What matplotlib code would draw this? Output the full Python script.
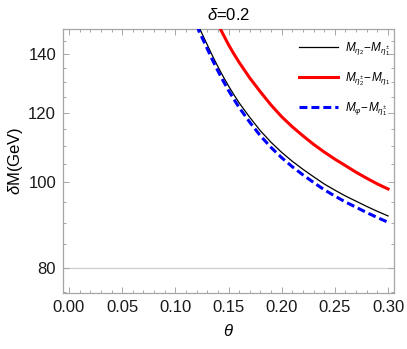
import numpy as np
import matplotlib
matplotlib.use("Agg")
import matplotlib.pyplot as plt
from matplotlib.ticker import FixedLocator, NullFormatter, FixedFormatter

plt.rcParams['font.family'] = ['Liberation Sans', 'DejaVu Sans']
plt.rcParams['mathtext.fontset'] = 'custom'
plt.rcParams['mathtext.rm'] = 'Liberation Sans'
plt.rcParams['mathtext.it'] = 'Liberation Sans:italic'
plt.rcParams['mathtext.sf'] = 'Liberation Sans'

# Data
theta_black = [0.12, 0.125, 0.13, 0.135, 0.14, 0.145, 0.15, 0.155, 0.16, 0.17, 0.18, 0.19,
               0.20, 0.21, 0.22, 0.23, 0.24, 0.25, 0.26, 0.27, 0.28, 0.29, 0.30]
dm_black = [152.5, 147.8, 143.5, 139.3, 135.5, 132.0, 128.8, 125.9, 123.2, 118.6, 114.5, 111.1,
            108.2, 105.7, 103.5, 101.5, 99.6, 98.0, 96.5, 95.2, 93.9, 92.7, 91.6]

theta_red = [0.14, 0.145, 0.15, 0.155, 0.16, 0.17, 0.18, 0.19, 0.20, 0.21, 0.22, 0.23,
             0.24, 0.25, 0.26, 0.27, 0.28, 0.29, 0.30]
dm_red = [151.5, 147.4, 143.5, 140.1, 137.0, 131.5, 126.8, 122.5, 118.8, 115.7, 113.0, 110.5,
          108.3, 106.3, 104.5, 102.7, 101.1, 99.6, 98.3]

theta_blue = [0.12, 0.125, 0.13, 0.135, 0.14, 0.145, 0.15, 0.155, 0.16, 0.17, 0.18, 0.19,
              0.20, 0.21, 0.22, 0.23, 0.24, 0.25, 0.26, 0.27, 0.28, 0.29, 0.30]
dm_blue = [151.0, 146.3, 142.0, 137.8, 134.0, 130.5, 127.3, 124.4, 121.7, 117.1, 113.0, 109.6,
           106.7, 104.2, 102.0, 100.0, 98.1, 96.5, 95.0, 93.7, 92.4, 91.2, 90.1]

x_ticks = [0.00, 0.05, 0.10, 0.15, 0.20, 0.25, 0.30]
y_ticks = [80, 100, 120, 140]
y_minor = [75, 85, 90, 95, 105, 110, 115, 125, 130, 135, 145]
ref_line = 80

labels = [r'$M_{\eta_2}\!-\!M_{\eta_1^{\pm}}$',
          r'$M_{\eta_2^{\pm}}\!-\!M_{\eta_1}$',
          r'$M_{\varphi}\!-\!M_{\eta_1^{\pm}}$']

fig = plt.figure(figsize=(4.07, 3.49), dpi=100)
ax = fig.add_axes([63/407, 1-292.7/349, (394-63)/407, (292.7-29.3)/349])
ax.set_yscale('log')

ax.axhline(ref_line, color='#cccccc', lw=0.9, zorder=1)
ax.plot(theta_black, dm_black, color='black', lw=0.9, label=labels[0], zorder=3)
ax.plot(theta_red, dm_red, color=(1, 0, 0), lw=2.2, label=labels[1], zorder=3)
ax.plot(theta_blue, dm_blue, color=(0, 0, 1), lw=2.2, dashes=(2.6, 1.3), label=labels[2], zorder=3)

ax.set_xlim(-0.0056, 0.3056)
ax.set_ylim(74.9, 149.4)

ax.xaxis.set_major_locator(FixedLocator(x_ticks))
ax.xaxis.set_major_formatter(FixedFormatter([f'{v:.2f}' for v in x_ticks]))
ax.xaxis.set_minor_locator(FixedLocator(np.round(np.arange(0, 0.3001, 0.01), 2)))
ax.yaxis.set_major_locator(FixedLocator(y_ticks))
ax.yaxis.set_major_formatter(FixedFormatter([str(v) for v in y_ticks]))
ax.yaxis.set_minor_locator(FixedLocator(y_minor))
ax.yaxis.set_minor_formatter(NullFormatter())

for s in ax.spines.values():
    s.set_color('#a6a6a6')
    s.set_linewidth(0.9)
ax.tick_params(which='both', direction='in', top=True, right=True, color='#a6a6a6', width=0.7)
ax.tick_params(which='major', length=4, labelsize=12, pad=5, labelcolor='#1a1a1a')
ax.tick_params(which='minor', length=2)

ax.set_title(r'$\delta$=0.2', fontsize=12, pad=7)
ax.set_xlabel(r'$\theta$', fontsize=12, labelpad=6)
ax.set_ylabel(r'$\delta$M(GeV)', fontsize=12, labelpad=2)

leg = ax.legend(loc='upper right', bbox_to_anchor=(1.01, 0.985), frameon=False, fontsize=8.5,
                handlelength=3.3, labelspacing=1.05, handletextpad=0.6, borderaxespad=0.2)

fig.savefig('out.png', dpi=100)
